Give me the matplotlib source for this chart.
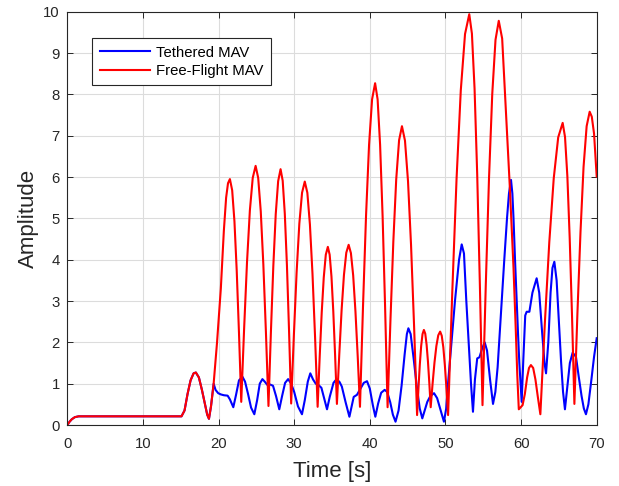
import matplotlib
matplotlib.use('Agg')
import matplotlib.pyplot as plt
import numpy as np

# ---- data (time [s], amplitude) ----
red_points = [
    (0, 0), (0.3, 0.08), (0.6, 0.14), (1.0, 0.19), (1.5, 0.21), (15.1, 0.21),
    (15.5, 0.35), (15.9, 0.75), (16.3, 1.08), (16.7, 1.25), (17.0, 1.27), (17.4, 1.15),
    (17.8, 0.85), (18.2, 0.5), (18.5, 0.25), (18.73, 0.15),
    (19.0, 0.45), (19.35, 1.0), (19.8, 2.0), (20.3, 3.3), (20.7, 4.7), (21.0, 5.5),
    (21.25, 5.85), (21.5, 5.95),
    (21.8, 5.68), (22.1, 4.93), (22.4, 3.74), (22.7, 2.23), (23.0, 0.56),
    (23.38, 2.33), (23.76, 3.93), (24.14, 5.19), (24.52, 5.98), (24.9, 6.27),
    (25.24, 5.98), (25.58, 5.17), (25.92, 3.89), (26.26, 2.26), (26.6, 0.46),
    (26.92, 2.24), (27.24, 3.84), (27.56, 5.10), (27.88, 5.90), (28.2, 6.19),
    (28.48, 5.91), (28.76, 5.11), (29.04, 3.87), (29.32, 2.28), (29.6, 0.52),
    (29.96, 2.18), (30.32, 3.69), (30.68, 4.87), (31.04, 5.62), (31.4, 5.89),
    (31.74, 5.62), (32.08, 4.85), (32.42, 3.66), (32.76, 2.13), (33.1, 0.44),
    (33.37, 1.64), (33.64, 2.72), (33.91, 3.57), (34.18, 4.12), (34.45, 4.31),
    (34.69, 4.12), (34.93, 3.59), (35.17, 2.75), (35.41, 1.69), (35.65, 0.51),
    (35.96, 1.70), (36.27, 2.78), (36.58, 3.63), (36.89, 4.17), (37.2, 4.36),
    (37.5, 4.16), (37.8, 3.62), (38.1, 2.75), (38.4, 1.66), (38.7, 0.44),
    (39.1, 2.87), (39.5, 5.06), (39.9, 6.78), (40.3, 7.88), (40.7, 8.27),
    (41.03, 7.88), (41.36, 6.78), (41.69, 5.06), (42.02, 2.86), (42.35, 0.43),
    (42.73, 2.54), (43.11, 4.44), (43.49, 5.94), (43.87, 6.89), (44.25, 7.23),
    (44.65, 6.88), (45.05, 5.90), (45.45, 4.36), (45.85, 2.41), (46.25, 0.24),
    (46.43, 0.88), (46.61, 1.46), (46.79, 1.91), (46.97, 2.20), (47.15, 2.30),
    (47.33, 2.21), (47.51, 1.94), (47.69, 1.53), (47.87, 1.01), (48.05, 0.43),
    (48.3, 1.0), (48.55, 1.51), (48.8, 1.91), (49.05, 2.17), (49.3, 2.26),
    (49.51, 2.16), (49.72, 1.88), (49.93, 1.43), (50.14, 0.87), (50.35, 0.24),
    (50.91, 3.25), (51.47, 5.96), (52.03, 8.10), (52.59, 9.46), (53.15, 9.94),
    (53.5, 9.47), (53.85, 8.14), (54.2, 6.06), (54.55, 3.41), (54.9, 0.48),
    (55.33, 3.36), (55.76, 5.97), (56.19, 8.01), (56.62, 9.32), (57.05, 9.78),
    (57.5, 9.35), (58.0, 7.6), (58.5, 5.8), (59.0, 3.8), (59.3, 2.3), (59.5, 1.2),
    (59.7, 0.38), (59.9, 0.42), (60.2, 0.48),
    (60.5, 0.75), (60.8, 1.15), (61.05, 1.38), (61.3, 1.45), (61.6, 1.38), (61.9, 1.1),
    (62.2, 0.7), (62.55, 0.26),
    (63.14, 2.45), (63.73, 4.42), (64.32, 5.97), (64.91, 6.96), (65.5, 7.31),
    (65.81, 6.97), (66.12, 6.02), (66.43, 4.52), (66.74, 2.62), (67.05, 0.51),
    (67.45, 2.70), (67.86, 4.68), (68.26, 6.24), (68.67, 7.23), (69.07, 7.58),
    (69.35, 7.46), (69.65, 7.05), (70.0, 6.01),
]

blue_points = [
    (0, 0), (0.3, 0.08), (0.6, 0.14), (1.0, 0.19), (1.5, 0.21), (15.1, 0.21),
    (15.5, 0.35), (15.9, 0.75), (16.3, 1.08), (16.7, 1.25), (17.0, 1.27), (17.4, 1.15),
    (17.8, 0.85), (18.2, 0.5), (18.5, 0.25), (18.73, 0.15),
    (19.0, 0.45), (19.35, 1.0), (19.6, 0.85), (19.95, 0.77), (20.3, 0.74), (20.7, 0.72),
    (21.2, 0.71), (21.5, 0.62), (21.95, 0.43),
    (22.3, 0.72), (22.7, 1.08), (23.15, 1.17), (23.5, 1.05), (23.9, 0.75), (24.3, 0.42),
    (24.73, 0.26),
    (25.1, 0.6), (25.45, 1.0), (25.8, 1.11), (26.1, 1.05), (26.45, 0.97), (26.8, 0.98),
    (27.2, 0.95), (27.6, 0.7), (28.03, 0.38),
    (28.4, 0.7), (28.8, 1.02), (29.2, 1.11), (29.6, 1.0), (30.0, 0.8), (30.5, 0.45),
    (31.03, 0.26),
    (31.4, 0.6), (31.8, 1.05), (32.13, 1.25), (32.5, 1.1), (32.85, 1.0), (33.2, 0.97),
    (33.6, 0.9), (33.95, 0.65), (34.34, 0.38),
    (34.7, 0.68), (35.2, 1.02), (35.6, 1.11), (36.0, 1.04), (36.3, 0.93), (36.8, 0.55),
    (37.3, 0.20),
    (37.6, 0.45), (37.87, 0.68), (38.3, 0.73), (38.7, 0.86), (39.2, 1.02), (39.63, 1.06),
    (40.0, 0.88), (40.4, 0.48), (40.73, 0.20),
    (41.1, 0.52), (41.5, 0.78), (41.96, 0.85), (42.3, 0.8), (42.7, 0.55), (43.05, 0.25),
    (43.4, 0.08),
    (43.8, 0.35), (44.2, 0.95), (44.6, 1.7), (44.9, 2.2), (45.1, 2.34), (45.4, 2.2),
    (45.8, 1.6), (46.2, 0.95), (46.6, 0.4), (46.94, 0.16),
    (47.3, 0.38), (47.6, 0.56), (48.0, 0.7), (48.49, 0.77), (48.9, 0.65), (49.3, 0.4),
    (49.8, 0.08),
    (50.1, 0.4), (50.34, 1.0), (50.8, 2.0), (51.26, 3.0), (51.8, 4.0), (52.15, 4.37),
    (52.45, 4.15), (52.76, 3.0), (53.07, 2.0), (53.38, 1.0), (53.64, 0.32),
    (53.9, 1.1), (54.2, 1.61), (54.5, 1.64), (54.85, 1.85), (55.19, 2.0), (55.5, 1.8),
    (55.9, 1.1), (56.29, 0.51),
    (56.6, 0.8), (56.9, 1.4), (57.1, 2.0), (57.44, 3.0), (57.78, 4.0), (58.14, 5.0),
    (58.4, 5.6), (58.67, 5.93),
    (58.85, 5.6), (59.0, 5.0), (59.2, 4.0), (59.42, 3.0), (59.6, 2.2), (59.77, 1.5),
    (60.08, 0.56),
    (60.3, 1.6), (60.55, 2.65), (60.74, 2.74), (61.1, 2.74), (61.5, 3.2), (62.06, 3.55),
    (62.4, 3.2), (62.8, 2.2), (63.1, 1.5), (63.3, 1.25),
    (63.6, 2.0), (63.9, 3.2), (64.15, 3.8), (64.4, 3.95), (64.7, 3.5), (65.0, 2.5),
    (65.3, 1.5), (65.55, 0.8), (65.8, 0.38),
    (66.1, 0.9), (66.45, 1.5), (66.82, 1.75), (67.26, 1.65), (67.6, 1.2), (68.0, 0.7),
    (68.3, 0.4), (68.58, 0.26),
    (68.9, 0.5), (69.3, 1.1), (69.65, 1.65), (70.0, 2.1),
]

series_labels = ['Tethered MAV', 'Free-Flight MAV']
x_ticks = [0, 10, 20, 30, 40, 50, 60, 70]
y_ticks = [0, 1, 2, 3, 4, 5, 6, 7, 8, 9, 10]
x_label = 'Time [s]'
y_label = 'Amplitude'

plt.rcParams['font.family'] = ['Liberation Sans', 'DejaVu Sans']
dark = '#262626'

red_t, red_y = np.array(red_points).T
blue_t, blue_y = np.array(blue_points).T

fig = plt.figure(figsize=(6.19, 4.86), dpi=100)
ax = fig.add_axes([67.3 / 619, (486 - 425) / 486, (596.7 - 67.3) / 619, (425 - 11.7) / 486])

ax.plot(blue_t, blue_y, color=(0, 0, 1), lw=1.5, label=series_labels[0])
ax.plot(red_t, red_y, color=(1, 0, 0), lw=1.5, label=series_labels[1])

ax.set_xlim(0, 70)
ax.set_ylim(0, 10)
ax.set_xticks(x_ticks)
ax.set_yticks(y_ticks)
ax.grid(True, color='#dcdcdc', lw=0.8)
ax.set_axisbelow(True)
ax.tick_params(direction='in', top=True, right=True, length=4, width=0.7,
               colors=dark, labelsize=10.7)
ax.tick_params(axis='x', pad=8.5)
ax.tick_params(axis='y', pad=5.5)
for s in ax.spines.values():
    s.set_color(dark)
    s.set_linewidth(0.8)

ax.set_xlabel(x_label, fontsize=16, color=dark, labelpad=7)
ax.set_ylabel(y_label, fontsize=16, color=dark, labelpad=3)

leg = ax.legend(loc='upper left', bbox_to_anchor=(0.047, 0.936), borderaxespad=0,
                fontsize=10.7, handlelength=3.4, handletextpad=0.38, borderpad=0.5,
                labelspacing=0.3, fancybox=False, framealpha=1, edgecolor=dark)
leg.get_frame().set_linewidth(0.8)
for t in leg.get_texts():
    t.set_color('black')

fig.savefig('out.png', dpi=100)
